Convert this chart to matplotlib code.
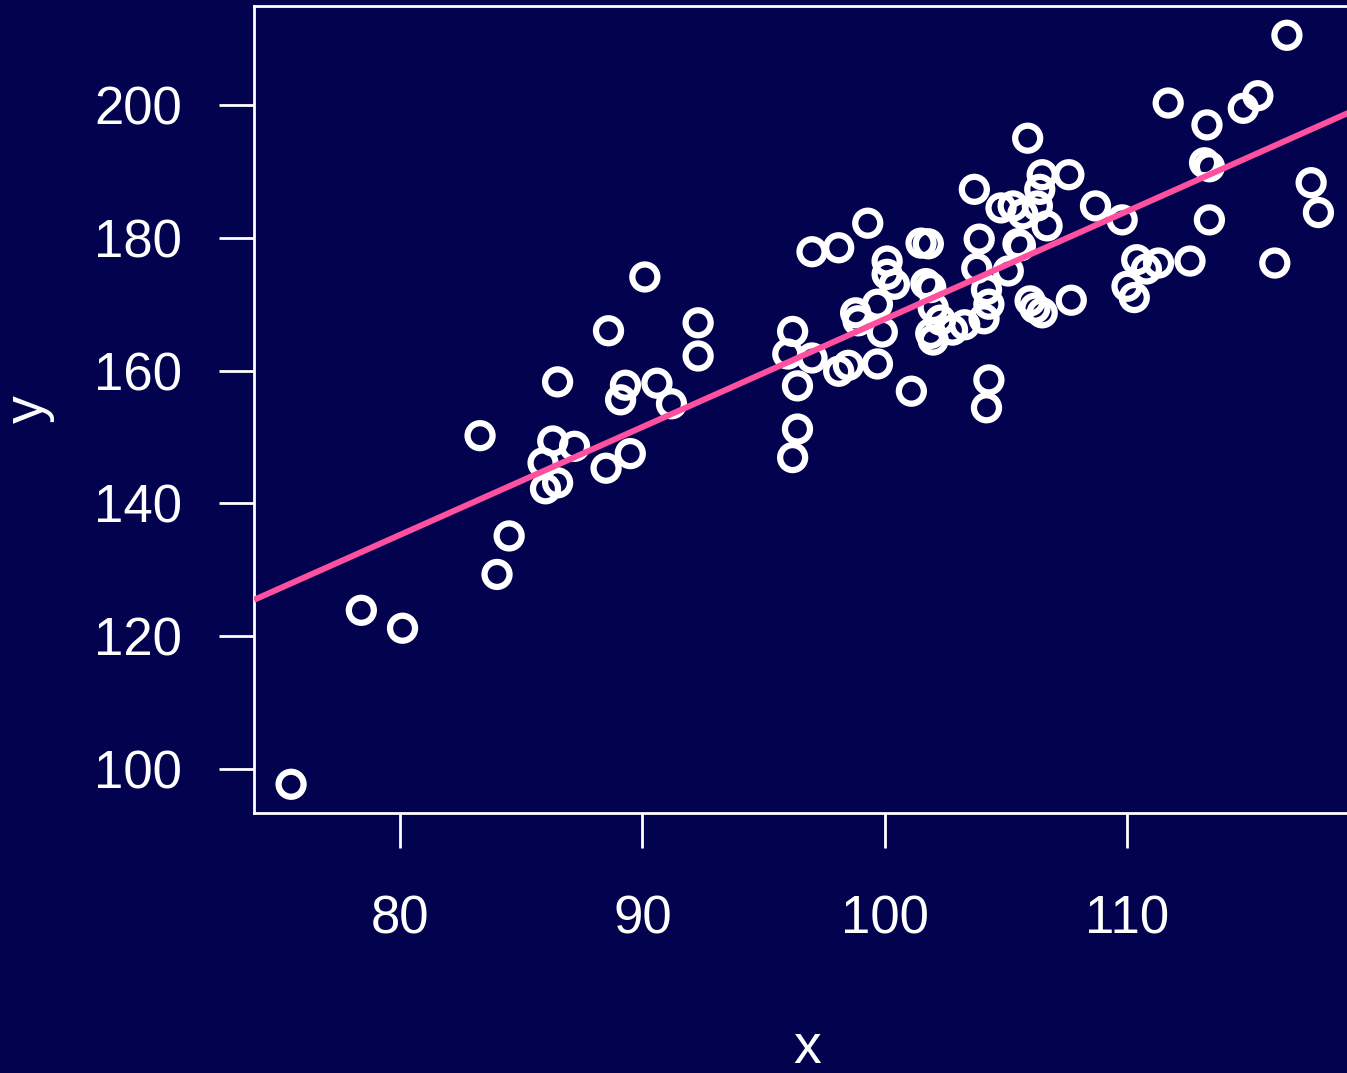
import numpy as np
import matplotlib as mpl
mpl.use('Agg')
import matplotlib.pyplot as plt

# values
x_vals = [
    75.5, 78.4, 80.1, 83.3, 84.0, 84.5, 85.9, 86.0, 86.3, 86.5,
    86.5, 87.2, 88.5, 88.6, 89.1, 89.3, 89.5, 90.1, 90.6, 91.2,
    92.3, 92.3,
    96.0, 96.2, 97.0, 96.4, 96.4, 96.2, 97.0, 98.1, 99.3, 98.1,
    98.5, 98.8, 98.9, 99.7, 99.7, 99.9, 100.1, 100.1, 100.4, 101.1,
    101.5, 101.8, 101.7, 101.9, 102.0, 102.3, 101.9, 102.0, 102.8, 103.3,
    103.7, 103.8, 103.9, 104.1, 104.2, 104.3, 104.3, 104.2,
    105.1, 104.8, 105.3, 105.7, 105.5, 105.6, 105.9, 106.0, 106.2, 106.5,
    106.3, 106.4, 106.5, 106.7, 107.6, 107.7, 108.7, 109.8, 110.3, 110.8,
    110.0, 110.4, 111.3, 111.7, 112.6, 113.2, 113.4, 113.3, 113.4, 114.8,
    115.4, 116.1, 116.6, 117.6, 117.9
]
y_vals = [
    97.7, 123.9, 121.2, 150.2, 129.3, 135.1, 146.1, 142.2, 149.4, 143.1,
    158.3, 148.6, 145.3, 166.0, 155.6, 157.8, 147.5, 174.1, 158.1, 155.0,
    167.2, 162.2,
    162.5, 165.9, 161.9, 157.7, 151.2, 146.9, 177.9, 178.5, 182.2, 159.9,
    160.8, 168.7, 167.5, 170.0, 161.0, 165.8, 176.5, 174.5, 173.0, 156.9,
    179.2, 179.1, 173.1, 172.5, 169.5, 167.6, 165.6, 164.6, 166.1, 166.9,
    187.3, 175.4, 179.8, 167.8, 172.2, 170.0, 158.6, 154.4,
    175.0, 184.5, 184.8, 183.6, 179.1, 178.8, 195.0, 170.5, 169.4, 168.7,
    184.8, 187.3, 189.5, 181.8, 189.5, 170.6, 184.8, 182.7, 171.0, 175.3,
    172.7, 176.7, 176.2, 200.3, 176.5, 191.3, 190.7, 197.0, 182.7, 199.5,
    201.4, 176.2, 210.5, 188.3, 183.8
]

x = np.array(x_vals)
y = np.array(y_vals)
slope, intercept = np.polyfit(x, y, 1)

bg = '#02024f'
fg = 'white'

plt.rcParams['font.family'] = ['Liberation Sans', 'DejaVu Sans']

fig = plt.figure(figsize=(13.47, 10.73), dpi=100, facecolor=bg)
ax = fig.add_axes([254 / 1347, 260 / 1073, 1106 / 1347, 807 / 1073])
ax.set_facecolor(bg)

ax.scatter(x, y, s=18 ** 2, facecolors='none', edgecolors=fg,
           linewidths=4.5, zorder=3)

xl = (73.97, 73.97 + 1106 / 24.23)
xs = np.array(xl)
ax.plot(xs, intercept + slope * xs, color='#ff4fa0', lw=4.3, zorder=4,
        solid_capstyle='butt')

ax.set_xlim(*xl)
ax.set_ylim(100 - 44 / 6.64, 200 + 99 / 6.64)
ax.set_xticks([80, 90, 100, 110])
ax.set_yticks([100, 120, 140, 160, 180, 200])

for s in ax.spines.values():
    s.set_color(fg)
    s.set_linewidth(2)

ax.tick_params(axis='x', colors=fg, length=25, width=2, pad=34, labelsize=38)
ax.tick_params(axis='y', colors=fg, length=25, width=2, pad=27, labelsize=38)

ax.set_xlabel('x', color=fg, fontsize=40, labelpad=56)
ax.set_ylabel('y', color=fg, fontsize=40, labelpad=28)

fig.savefig('out.png', dpi=100, facecolor=bg)
